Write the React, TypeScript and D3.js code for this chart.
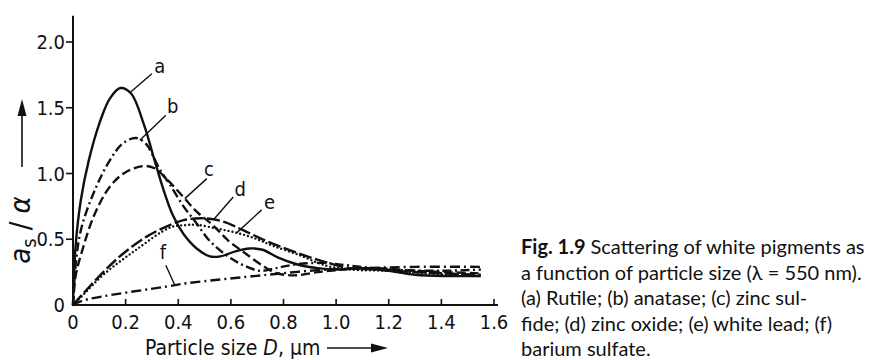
import React from "react";
import * as d3 from "d3";

// Scattering efficiency per unit volume vs. particle diameter (µm)
const rutile: [number, number][] = [
  [0, 0], [0.01, 0.45], [0.03, 0.8], [0.06, 1.1], [0.1, 1.38], [0.14, 1.57], [0.18, 1.65],
  [0.22, 1.61], [0.27, 1.37], [0.31, 1.1], [0.345, 0.87], [0.38, 0.68], [0.42, 0.54],
  [0.47, 0.43], [0.52, 0.37], [0.56, 0.37], [0.62, 0.41], [0.67, 0.43], [0.72, 0.42],
  [0.78, 0.36], [0.85, 0.31], [0.93, 0.28], [1.0, 0.27], [1.1, 0.28], [1.2, 0.26],
  [1.3, 0.23], [1.42, 0.22], [1.55, 0.22],
];
const anatase: [number, number][] = [
  [0, 0], [0.01, 0.3], [0.03, 0.57], [0.08, 0.86], [0.14, 1.1], [0.19, 1.23], [0.24, 1.27],
  [0.28, 1.22], [0.3, 1.15], [0.33, 1.03], [0.37, 0.91], [0.42, 0.75], [0.47, 0.62],
  [0.51, 0.51], [0.55, 0.43], [0.6, 0.355], [0.65, 0.3], [0.71, 0.26], [0.77, 0.28],
  [0.85, 0.31], [0.95, 0.32], [1.05, 0.3], [1.2, 0.27], [1.4, 0.26], [1.55, 0.27],
];
const zincSulfide: [number, number][] = [
  [0, 0], [0.01, 0.22], [0.03, 0.38], [0.08, 0.68], [0.14, 0.9], [0.2, 1.01], [0.27, 1.057],
  [0.31, 1.04], [0.36, 0.95], [0.42, 0.82], [0.47, 0.71], [0.53, 0.61], [0.59, 0.49],
  [0.65, 0.4], [0.72, 0.3], [0.77, 0.245], [0.84, 0.225], [0.93, 0.25], [1.03, 0.27],
  [1.15, 0.28], [1.3, 0.26], [1.55, 0.24],
];
const zincOxide: [number, number][] = [
  [0, 0], [0.04, 0.09], [0.115, 0.25], [0.19, 0.39], [0.28, 0.52], [0.37, 0.61], [0.42, 0.645],
  [0.49, 0.66], [0.57, 0.635], [0.64, 0.575], [0.72, 0.5], [0.8, 0.435], [0.89, 0.37],
  [0.97, 0.32], [1.05, 0.28], [1.15, 0.27], [1.3, 0.25], [1.55, 0.23],
];
const whiteLead: [number, number][] = [
  [0, 0], [0.04, 0.08], [0.115, 0.23], [0.24, 0.42], [0.37, 0.59], [0.43, 0.608], [0.47, 0.61],
  [0.55, 0.58], [0.63, 0.545], [0.7, 0.5], [0.76, 0.45], [0.86, 0.38], [0.96, 0.3],
  [1.05, 0.27], [1.2, 0.26], [1.35, 0.24], [1.55, 0.22],
];
const bariumSulfate: [number, number][] = [
  [0, 0], [0.04, 0.035], [0.37, 0.145], [0.43, 0.165], [0.74, 0.23], [0.93, 0.265],
  [1.1, 0.28], [1.3, 0.29], [1.55, 0.29],
];

const X_TICKS = [0, 0.2, 0.4, 0.6, 0.8, 1.0, 1.2, 1.4, 1.6];
const X_TICK_LABELS = ["0", "0.2", "0.4", "0.6", "0.8", "1.0", "1.2", "1.4", "1.6"];
const Y_TICKS = [0, 0.5, 1.0, 1.5, 2.0];
const Y_TICK_LABELS = ["0", "0.5", "1.0", "1.5", "2.0"];

const CAPTION_LINES = [
  "a function of particle size (λ = 550 nm).",
  "(a) Rutile; (b) anatase; (c) zinc sul-",
  "fide; (d) zinc oxide; (e) white lead; (f)",
  "barium sulfate.",
];

type Series = { key: string; data: [number, number][]; dash: string | null; cap: string; labelAt: number };
const SERIES: Series[] = [
  { key: "a", data: rutile, dash: null, cap: "butt", labelAt: 0.216 },
  { key: "b", data: anatase, dash: "9 3.5 2 3.5", cap: "butt", labelAt: 0.254 },
  { key: "c", data: zincSulfide, dash: "9 4", cap: "butt", labelAt: 0.425 },
  { key: "d", data: zincOxide, dash: "13 3.5", cap: "butt", labelAt: 0.533 },
  { key: "e", data: whiteLead, dash: "0 4", cap: "round", labelAt: 0.622 },
  { key: "f", data: bariumSulfate, dash: "10 4 2 4", cap: "butt", labelAt: 0.387 },
];

// leader direction and tag offset (px) for each curve
const LEADERS: Record<string, { dx: number; dy: number; lx: number; ly: number }> = {
  a: { dx: 22, dy: -19, lx: 8, ly: -8 },
  b: { dx: 26, dy: -25, lx: 7, ly: -9 },
  c: { dx: 22, dy: -20, lx: 2, ly: -10 },
  d: { dx: 20, dy: -23, lx: 7, ly: -8 },
  e: { dx: 25, dy: -23, lx: 8, ly: -8 },
  f: { dx: -9, dy: -20, lx: -3, ly: -13 },
};

const AXIS_FONT = "'DejaVu Sans Condensed', 'DejaVu Sans', sans-serif";
const CAPTION_FONT = "Lato, 'Noto Sans', sans-serif";

function interpY(data: [number, number][], x: number): number {
  for (let i = 1; i < data.length; i++) {
    const [x0, y0] = data[i - 1];
    const [x1, y1] = data[i];
    if (x >= x0 && x <= x1) return y0 + ((y1 - y0) * (x - x0)) / (x1 - x0);
  }
  return data[data.length - 1][1];
}

export default function App() {
  const x = d3.scaleLinear().domain([0, 1.6]).range([73, 494]);
  const y = d3.scaleLinear().domain([0, 2]).range([305, 42]);
  const line = d3
    .line<[number, number]>()
    .x((d) => x(d[0]))
    .y((d) => y(d[1]))
    .curve(d3.curveCatmullRom.alpha(0.5));

  const yArrowX = 22;
  return (
    <svg
      width={869}
      height={360}
      style={{ position: "absolute", left: 0, top: 0, background: "#fff" }}
      fontFamily={AXIS_FONT}
    >
      {/* axes */}
      <line x1={x(0)} x2={x(0)} y1={y(0)} y2={y(2.2)} stroke="#111" strokeWidth={2} />
      <line x1={x(0)} x2={x(1.615)} y1={y(0)} y2={y(0)} stroke="#111" strokeWidth={2} />
      {Y_TICKS.map((t, i) => (
        <g key={"yt" + i}>
          {t > 0 && <line x1={x(0) - 7} x2={x(0)} y1={y(t)} y2={y(t)} stroke="#111" strokeWidth={1.6} />}
          <text x={x(0) - 8} y={y(t) + 7} textAnchor="end" fontSize={20} fill="#111" fontStretch="condensed">
            {Y_TICK_LABELS[i]}
          </text>
        </g>
      ))}
      {X_TICKS.map((t, i) => (
        <g key={"xt" + i}>
          {t > 0 && <line x1={x(t)} x2={x(t)} y1={y(0)} y2={y(0) - 6} stroke="#111" strokeWidth={1.6} />}
          <text x={x(t)} y={y(0) + 24} textAnchor="middle" fontSize={20} fill="#111" fontStretch="condensed">
            {X_TICK_LABELS[i]}
          </text>
        </g>
      ))}

      {/* y axis title with arrow */}
      <g transform={`translate(${yArrowX}, 230) rotate(-90)`}>
        <text textAnchor="middle" y={8} fontSize={29} fill="#111" fontStretch="condensed">
          <tspan fontStyle="italic">a</tspan>
          <tspan fontSize={20} dy={6}>s</tspan>
          <tspan dy={-6} dx={8}>/</tspan>
          <tspan dx={8} fontStyle="italic">α</tspan>
        </text>
      </g>
      <line x1={yArrowX} x2={yArrowX} y1={167} y2={112} stroke="#111" strokeWidth={1.6} />
      <path d={`M${yArrowX},99 L${yArrowX - 4.5},116 L${yArrowX + 4.5},116 Z`} fill="#111" />

      {/* x axis title with arrow */}
      <text x={145} y={355} fontSize={21} fill="#111" fontStretch="condensed">
        Particle size <tspan fontStyle="italic">D</tspan>, µm
      </text>
      <line x1={327} x2={374} y1={348} y2={348} stroke="#111" strokeWidth={1.6} />
      <path d="M388,348 L371,343.5 L371,352.5 Z" fill="#111" />

      {/* curves */}
      {SERIES.map((s) => (
        <path
          key={s.key}
          d={line(s.data) || ""}
          fill="none"
          stroke="#111"
          strokeWidth={2.4}
          strokeDasharray={s.dash || undefined}
          strokeLinecap={s.cap as any}
          strokeLinejoin="round"
        />
      ))}

      {/* curve tags with leaders */}
      {SERIES.map((s) => {
        const ax = x(s.labelAt);
        const ay = y(interpY(s.data, s.labelAt));
        const L = LEADERS[s.key];
        return (
          <g key={"lab" + s.key}>
            <line x1={ax} y1={ay} x2={ax + L.dx} y2={ay + L.dy} stroke="#111" strokeWidth={1.4} />
            <text
              x={ax + L.dx + L.lx}
              y={ay + L.dy + L.ly + 7}
              textAnchor="middle"
              fontSize={20}
              fill="#111"
              fontStretch="condensed"
            >
              {s.key}
            </text>
          </g>
        );
      })}

      {/* caption */}
      <g fontFamily={CAPTION_FONT} fontSize={20} fill="#111">
        <text x={521} y={254}>
          <tspan fontWeight="bold">Fig. 1.9</tspan>
          <tspan dx={5}>Scattering of white pigments as</tspan>
        </text>
        {CAPTION_LINES.map((t, i) => (
          <text key={"cap" + i} x={521} y={279.5 + i * 25.5}>
            {t}
          </text>
        ))}
      </g>
    </svg>
  );
}
